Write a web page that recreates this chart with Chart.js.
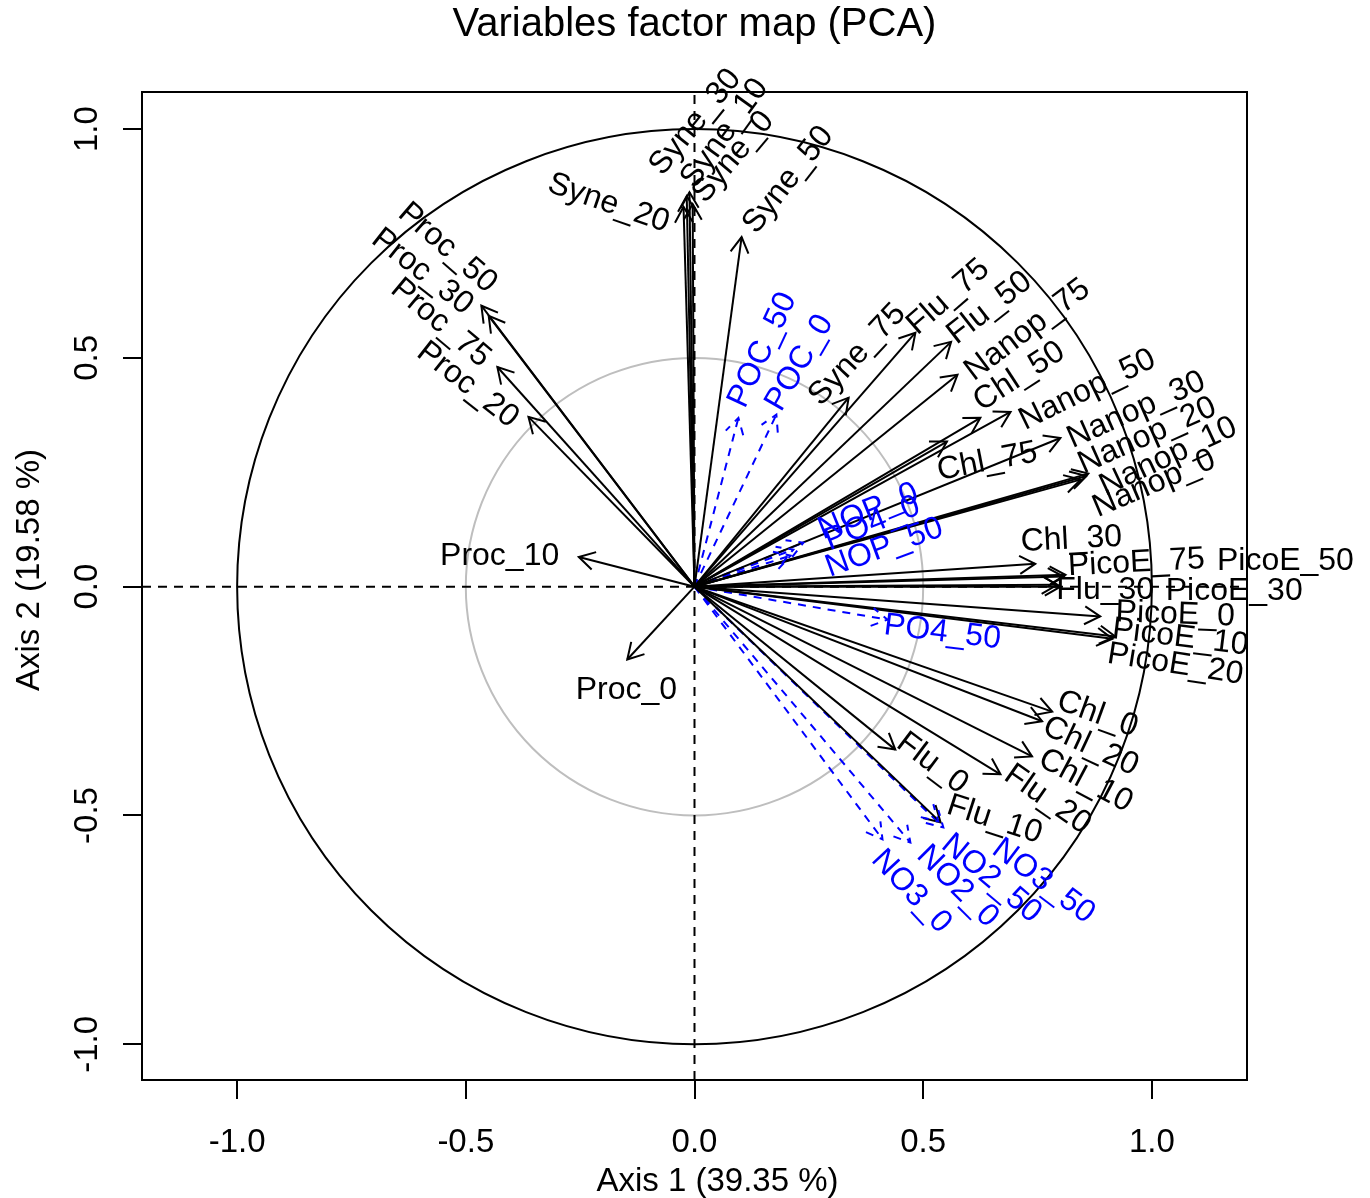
<!DOCTYPE html>
<html lang="en">
<head>
  <meta charset="UTF-8" />
  <title>Variables factor map (PCA)</title>
  <script src="https://cdn.jsdelivr.net/npm/chart.js"></script>
  <style>
    html, body { margin: 0; padding: 0; background: #fff; }
    #wrap { width: 1370px; height: 1198px; }
  </style>
</head>
<body>
  <div id="wrap"><canvas id="pcaChart" width="1370" height="1198"></canvas></div>

  <script>
    // active variables (black arrows): coordinates on dim 1 / dim 2
    const activeNames = ["Syne_0", "Syne_10", "Syne_20", "Syne_30", "Syne_50", "Syne_75",
      "Proc_0", "Proc_10", "Proc_20", "Proc_30", "Proc_50", "Proc_75",
      "Flu_0", "Flu_10", "Flu_20", "Flu_30", "Flu_50", "Flu_75",
      "Chl_0", "Chl_10", "Chl_20", "Chl_30", "Chl_50", "Chl_75",
      "Nanop_0", "Nanop_10", "Nanop_20", "Nanop_30", "Nanop_50", "Nanop_75",
      "PicoE_0", "PicoE_10", "PicoE_20", "PicoE_30", "PicoE_50", "PicoE_75"];
    const activeDim1 = [-0.004, -0.011, -0.024, -0.017, 0.103, 0.337,
      -0.147, -0.253, -0.363, -0.450, -0.466, -0.431,
      0.439, 0.538, 0.669, 0.800, 0.561, 0.483,
      0.782, 0.738, 0.760, 0.745, 0.625, 0.552,
      0.844, 0.857, 0.861, 0.800, 0.691, 0.575,
      0.887, 0.920, 0.914, 0.793, 0.807, 0.811];
    const activeDim2 = [0.836, 0.862, 0.830, 0.854, 0.764, 0.413,
      -0.159, 0.065, 0.371, 0.592, 0.614, 0.480,
      -0.356, -0.515, -0.410, 0.000, 0.535, 0.555,
      -0.273, -0.371, -0.294, 0.050, 0.369, 0.317,
      0.234, 0.242, 0.247, 0.325, 0.382, 0.463,
      -0.065, -0.109, -0.114, 0.004, 0.022, 0.026];

    // supplementary variables (blue dashed arrows)
    const suppNames = ["NO2_0", "NO2_50", "NO3_0", "NO3_50", "NOP_0", "NOP_50", "PO4_0", "PO4_50", "POC_0", "POC_50"];
    const suppDim1 = [0.472, 0.533, 0.411, 0.544, 0.238, 0.210, 0.216, 0.422, 0.179, 0.096];
    const suppDim2 = [-0.559, -0.513, -0.552, -0.526, 0.096, 0.068, 0.081, -0.072, 0.376, 0.369];

    const axisTicks = [-1, -0.5, 0, 0.5, 1];
    const circleRadii = [0.5, 1];
    const xLimits = [-1.208, 1.208];
    const yLimits = [-1.078, 1.081];
    const xTitle = "Axis 1 (39.35 %)";
    const yTitle = "Axis 2 (19.58 %)";

    // where each label sits (data units) and its tilt in degrees
    const labelSpot = {
      Syne_0: [0.085, 0.939, -50], Syne_10: [0.066, 0.991, -54], Syne_20: [-0.188, 0.838, 19],
      Syne_30: [0.002, 1.015, -51], Syne_50: [0.205, 0.889, -52], Syne_75: [0.356, 0.507, -47],
      Proc_0: [-0.149, -0.227, 0], Proc_10: [-0.426, 0.066, 0], Proc_20: [-0.496, 0.441, 38],
      Proc_30: [-0.595, 0.688, 38], Proc_50: [-0.540, 0.740, 41], Proc_75: [-0.555, 0.576, 40],
      Flu_0: [0.520, -0.386, 37], Flu_10: [0.656, -0.509, 18], Flu_20: [0.772, -0.465, 35],
      Flu_30: [0.898, -0.007, 0], Flu_50: [0.645, 0.609, -38], Flu_75: [0.555, 0.633, -41],
      Chl_0: [0.881, -0.279, 20], Chl_10: [0.855, -0.424, 28], Chl_20: [0.866, -0.349, 25],
      Chl_30: [0.824, 0.103, -3], Chl_50: [0.710, 0.459, -33], Chl_75: [0.640, 0.273, -11],
      Nanop_0: [1.005, 0.225, -23], Nanop_10: [1.036, 0.284, -25], Nanop_20: [0.990, 0.330, -24],
      Nanop_30: [0.966, 0.386, -24], Nanop_50: [0.859, 0.430, -26], Nanop_75: [0.728, 0.561, -37],
      PicoE_0: [1.051, -0.061, 2], PicoE_10: [1.062, -0.111, 7], PicoE_20: [1.051, -0.170, 9],
      PicoE_30: [1.180, -0.009, 0], PicoE_50: [1.292, 0.055, 0], PicoE_75: [0.966, 0.052, -3],
      NO2_0: [0.575, -0.655, 45], NO2_50: [0.649, -0.638, 40], NO3_0: [0.474, -0.666, 47],
      NO3_50: [0.763, -0.644, 37], NOP_0: [0.380, 0.164, -22], NOP_50: [0.415, 0.085, -20],
      PO4_0: [0.389, 0.138, -22], PO4_50: [0.542, -0.100, 7], POC_0: [0.230, 0.489, -60],
      POC_50: [0.149, 0.517, -65]
    };

    const FONT = "'Liberation Sans', Arial, Helvetica, sans-serif";
    const BLUE = "#0000ff";

    function arrowSet(name, dx, dy, color, dash) {
      return {
        varName: name,
        data: [{ x: 0, y: 0 }, { x: dx, y: dy }],
        showLine: true,
        borderColor: color,
        borderWidth: 2,
        borderDash: dash,
        pointRadius: 0,
        pointHoverRadius: 0,
        fill: false
      };
    }

    const datasets = [];
    activeNames.forEach((n, i) => datasets.push(arrowSet(n, activeDim1[i], activeDim2[i], "#000", [])));
    suppNames.forEach((n, i) => datasets.push(arrowSet(n, suppDim1[i], suppDim2[i], BLUE, [8, 7])));
    // dashed reference lines through the origin
    datasets.push({ data: [{ x: xLimits[0], y: 0 }, { x: xLimits[1], y: 0 }], showLine: true,
      borderColor: "#000", borderWidth: 2, borderDash: [9, 7], pointRadius: 0 });
    datasets.push({ data: [{ x: 0, y: yLimits[0] }, { x: 0, y: yLimits[1] }], showLine: true,
      borderColor: "#000", borderWidth: 2, borderDash: [9, 7], pointRadius: 0 });

    const pcaDecor = {
      id: "pcaDecor",
      beforeDatasetsDraw(chart) {
        const { ctx, scales: { x, y } } = chart;
        const ox = x.getPixelForValue(0), oy = y.getPixelForValue(0);
        ctx.save();
        circleRadii.forEach(r => {
          ctx.beginPath();
          ctx.ellipse(ox, oy, x.getPixelForValue(r) - ox, oy - y.getPixelForValue(r), 0, 0, 2 * Math.PI);
          ctx.strokeStyle = r < 1 ? "#bebebe" : "#000";
          ctx.lineWidth = 2;
          ctx.stroke();
        });
        ctx.restore();
      },
      afterDatasetsDraw(chart) {
        const { ctx, chartArea: a, scales: { x, y } } = chart;
        const ox = x.getPixelForValue(0), oy = y.getPixelForValue(0);
        ctx.save();
        ctx.strokeStyle = "#000";
        ctx.lineWidth = 2;
        ctx.strokeRect(a.left, a.top, a.width, a.height);

        // arrow heads
        chart.data.datasets.forEach(ds => {
          if (!ds.varName) return;
          const tx = x.getPixelForValue(ds.data[1].x), ty = y.getPixelForValue(ds.data[1].y);
          const ang = Math.atan2(ty - oy, tx - ox);
          const len = 18, spread = Math.PI / 6;
          ctx.beginPath();
          ctx.moveTo(tx - len * Math.cos(ang - spread), ty - len * Math.sin(ang - spread));
          ctx.lineTo(tx, ty);
          ctx.lineTo(tx - len * Math.cos(ang + spread), ty - len * Math.sin(ang + spread));
          ctx.strokeStyle = ds.borderColor;
          ctx.lineWidth = 2;
          ctx.setLineDash(ds.borderDash);
          ctx.stroke();
        });
        ctx.setLineDash([]);

        // variable labels
        ctx.font = "32px " + FONT;
        ctx.textAlign = "center";
        ctx.textBaseline = "middle";
        chart.data.datasets.forEach(ds => {
          if (!ds.varName) return;
          const s = labelSpot[ds.varName];
          ctx.save();
          ctx.translate(x.getPixelForValue(s[0]), y.getPixelForValue(s[1]));
          ctx.rotate(s[2] * Math.PI / 180);
          ctx.fillStyle = ds.borderColor;
          ctx.fillText(ds.varName, 0, 0);
          ctx.restore();
        });

        // axis titles (sit a little off-centre, as in the original)
        ctx.fillStyle = "#000";
        ctx.font = "33px " + FONT;
        ctx.fillText(xTitle, (a.left + a.right) / 2 + 23, 1182);
        ctx.translate(30, (a.top + a.bottom) / 2 - 16);
        ctx.rotate(-Math.PI / 2);
        ctx.fillText(yTitle, 0, 0);
        ctx.restore();
      }
    };

    const tickFont = { family: FONT, size: 33 };

    new Chart(document.getElementById("pcaChart"), {
      type: "scatter",
      data: { datasets },
      plugins: [pcaDecor],
      options: {
        responsive: false,
        animation: false,
        events: [],
        layout: { padding: { left: 0, right: 123, top: 0, bottom: 0 } },
        plugins: {
          legend: { display: false },
          tooltip: { enabled: false },
          title: {
            display: true,
            text: "Variables factor map (PCA)",
            fullSize: false,
            color: "#000",
            font: { family: FONT, size: 40, weight: "normal" },
            padding: { top: 1, bottom: 43 }
          }
        },
        scales: {
          x: {
            type: "linear",
            min: xLimits[0],
            max: xLimits[1],
            afterBuildTicks: s => { s.ticks = axisTicks.map(v => ({ value: v })); },
            afterFit: s => { s.height = 118; },
            grid: { drawOnChartArea: false, drawTicks: true, tickLength: 19, color: "#000", lineWidth: 2 },
            border: { display: false },
            ticks: { color: "#000", font: tickFont, padding: 24, maxRotation: 0,
              callback: v => v.toFixed(1) }
          },
          y: {
            type: "linear",
            min: yLimits[0],
            max: yLimits[1],
            afterBuildTicks: s => { s.ticks = axisTicks.map(v => ({ value: v })); },
            afterFit: s => { s.width = 142; },
            grid: { drawOnChartArea: false, drawTicks: true, tickLength: 19, color: "#000", lineWidth: 2 },
            border: { display: false },
            ticks: { color: "#000", font: tickFont, padding: 6.6, minRotation: 90, maxRotation: 90,
              crossAlign: "center", callback: v => v.toFixed(1) }
          }
        }
      }
    });
  </script>
</body>
</html>
